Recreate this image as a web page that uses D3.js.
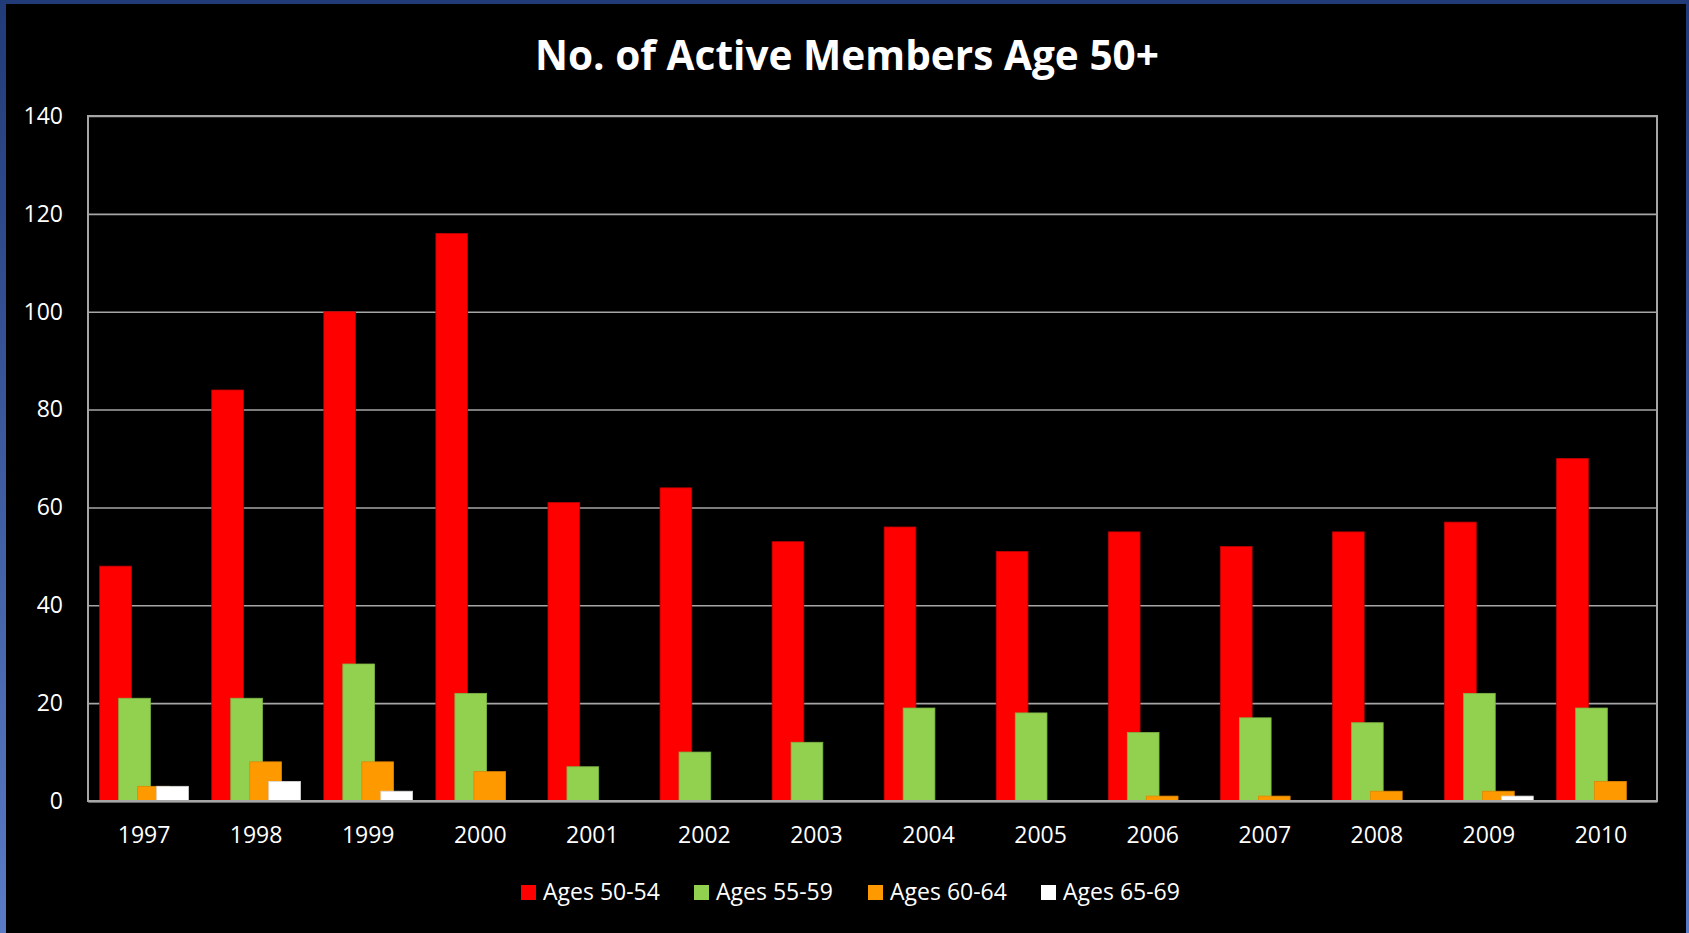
<!DOCTYPE html>
<html>
<head>
<meta charset="utf-8">
<script src="https://cdn.jsdelivr.net/npm/d3@7"></script>
<style>
  html, body { margin: 0; padding: 0; background: #000; }
  svg { display: block; }
</style>
</head>
<body>
<svg id="chart" width="1689" height="933"></svg>
<script>
const title = "No. of Active Members Age 50+";
const years = ["1997","1998","1999","2000","2001","2002","2003","2004","2005","2006","2007","2008","2009","2010"];
const seriesNames = ["Ages 50-54","Ages 55-59","Ages 60-64","Ages 65-69"];
const ages50_54 = [48, 84, 100, 116, 61, 64, 53, 56, 51, 55, 52, 55, 57, 70];
const ages55_59 = [21, 21, 28, 22, 7, 10, 12, 19, 18, 14, 17, 16, 22, 19];
const ages60_64 = [3, 8, 8, 6, 0, 0, 0, 0, 0, 1, 1, 2, 2, 4];
const ages65_69 = [3, 4, 2, 0, 0, 0, 0, 0, 0, 0, 0, 0, 1, 0];
const yTicks = [0, 20, 40, 60, 80, 100, 120, 140];
const colors = ["#ff0000", "#92d050", "#ff9900", "#ffffff"];
const strokes = ["#c00000", "#7fb547", "#e08800", "#d9d9d9"];

const seriesValues = [ages50_54, ages55_59, ages60_64, ages65_69];
const W = 1689, H = 933;
const svg = d3.select("#chart");

// frame
const defs = svg.append("defs");
const grad = defs.append("linearGradient").attr("id", "frameGrad")
  .attr("x1", 0).attr("y1", 0).attr("x2", 0).attr("y2", 1);
grad.append("stop").attr("offset", "0%").attr("stop-color", "#213a78");
grad.append("stop").attr("offset", "100%").attr("stop-color", "#5a7cc6");
svg.append("rect").attr("x", 0).attr("y", 0).attr("width", W).attr("height", H).attr("fill", "url(#frameGrad)");
svg.append("rect").attr("x", 6).attr("y", 4).attr("width", W - 6 - 3).attr("height", H - 4).attr("fill", "#000");

const plot = { left: 88, right: 1657, top: 116, bottom: 801 };

const x0 = d3.scaleBand().domain(years).range([plot.left, plot.right])
  .paddingInner(0.2085).paddingOuter(0.10425);
const y = d3.scaleLinear().domain([0, 140]).range([plot.bottom, plot.top]);

const barW = x0.bandwidth() * 31.7 / 88.7;
const x1 = d3.scalePoint().domain(seriesNames).range([0, x0.bandwidth() - barW]);

// gridlines
svg.append("g")
  .attr("transform", `translate(${plot.left},0)`)
  .call(d3.axisLeft(y).tickValues(yTicks).tickSize(-(plot.right - plot.left)).tickFormat(""))
  .call(g => g.select(".domain").remove())
  .call(g => g.selectAll(".tick line").attr("stroke", "#a6a6a6").attr("stroke-width", 1.6));

// y labels
svg.append("g")
  .attr("transform", `translate(${plot.left},0)`)
  .call(d3.axisLeft(y).tickValues(yTicks).tickSize(0).tickPadding(25))
  .call(g => g.select(".domain").remove())
  .call(g => g.selectAll("text").attr("fill", "#fff")
    .attr("font-family", "'Open Sans', sans-serif").attr("font-size", 23));

// bars
seriesNames.forEach((name, si) => {
  svg.append("g").selectAll("rect")
    .data(years.map((yr, i) => ({ yr, v: seriesValues[si][i] })).filter(d => d.v > 0))
    .join("rect")
    .attr("x", d => x0(d.yr) + x1(name))
    .attr("y", d => y(d.v))
    .attr("width", barW)
    .attr("height", d => y(0) - y(d.v))
    .attr("fill", colors[si])
    .attr("stroke", strokes[si])
    .attr("stroke-width", 0.8);
});

// plot border
svg.append("rect")
  .attr("x", plot.left).attr("y", plot.top)
  .attr("width", plot.right - plot.left).attr("height", plot.bottom - plot.top)
  .attr("fill", "none").attr("stroke", "#a6a6a6").attr("stroke-width", 2);

// x axis
svg.append("g")
  .attr("transform", `translate(0,${plot.bottom})`)
  .call(d3.axisBottom(x0).tickSize(0).tickPadding(26))
  .call(g => g.select(".domain").attr("stroke", "#a6a6a6").attr("stroke-width", 2))
  .call(g => g.selectAll("text").attr("fill", "#fff")
    .attr("font-family", "'Open Sans', sans-serif").attr("font-size", 23));

// title
svg.append("text")
  .attr("x", 847).attr("y", 70)
  .attr("text-anchor", "middle")
  .attr("fill", "#fff")
  .attr("font-family", "'Open Sans', sans-serif")
  .attr("font-weight", "bold")
  .attr("font-size", 41)
  .attr("textLength", 624)
  .attr("lengthAdjust", "spacingAndGlyphs")
  .text(title);

// legend
const legendX = [521, 694, 868, 1041];
const legend = svg.append("g");
seriesNames.forEach((name, i) => {
  const g = legend.append("g").attr("transform", `translate(${legendX[i]},892)`);
  g.append("rect").attr("x", 0).attr("y", -7).attr("width", 15).attr("height", 15).attr("fill", colors[i]);
  g.append("text").attr("x", 22).attr("y", 0).attr("dy", "0.35em")
    .attr("fill", "#fff").attr("font-family", "'Open Sans', sans-serif").attr("font-size", 23)
    .text(name);
});
</script>
</body>
</html>
